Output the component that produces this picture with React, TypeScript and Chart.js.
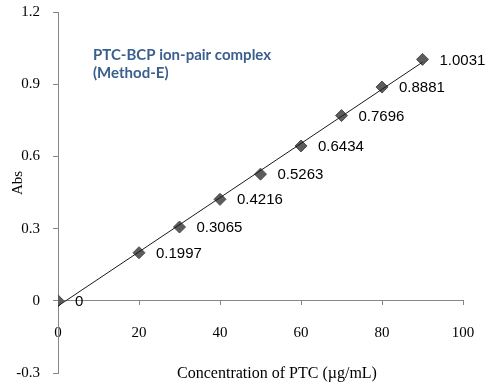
import React, { useEffect, useRef } from 'react';
import { Chart, registerables } from 'chart.js';

Chart.register(...registerables);

const concentrations = [0, 20, 30, 40, 50, 60, 70, 80, 90];
const absorbances = [0, 0.1997, 0.3065, 0.4216, 0.5263, 0.6434, 0.7696, 0.8881, 1.0031];
const pointLabels = ['0', '0.1997', '0.3065', '0.4216', '0.5263', '0.6434', '0.7696', '0.8881', '1.0031'];
const xTicks = [0, 20, 40, 60, 80, 100];
const xTickLabels = ['0', '20', '40', '60', '80', '100'];
const yTicks = [-0.3, 0, 0.3, 0.6, 0.9, 1.2];
const yTickLabels = ['-0.3', '0', '0.3', '0.6', '0.9', '1.2'];
const xTitle = 'Concentration of PTC (µg/mL)';
const yTitle = 'Abs';
const annotationLines = ['PTC-BCP ion-pair complex', '(Method-E)'];

function linearFit(xs: number[], ys: number[]) {
  const n = xs.length;
  const mx = xs.reduce((a, b) => a + b, 0) / n;
  const my = ys.reduce((a, b) => a + b, 0) / n;
  let sxy = 0, sxx = 0;
  for (let i = 0; i < n; i++) {
    sxy += (xs[i] - mx) * (ys[i] - my);
    sxx += (xs[i] - mx) * (xs[i] - mx);
  }
  const m = sxy / sxx;
  return { m, b: my - m * mx };
}

const AXIS = '#868686';
const SERIF = '"Liberation Serif", "Times New Roman", serif';

const textPlugin = {
  id: 'texts',
  afterDatasetsDraw(chart: any) {
    const ctx = chart.ctx;
    const area = chart.chartArea;
    const meta = chart.getDatasetMeta(1);
    ctx.save();
    ctx.font = '15px "Liberation Sans", Arial, sans-serif';
    ctx.fillStyle = '#000';
    ctx.textBaseline = 'middle';
    ctx.textAlign = 'left';
    meta.data.forEach((pt: any, i: number) => {
      ctx.fillText(pointLabels[i], pt.x + 17, pt.y + 1);
    });
    ctx.font = 'bold 15px Lato, "Open Sans", sans-serif';
    ctx.fillStyle = '#3A5E8E';
    ctx.textBaseline = 'alphabetic';
    annotationLines.forEach((line, i) => {
      ctx.fillText(line, area.left + 35, area.top + 48 + i * 18);
    });
    ctx.font = '16px ' + SERIF;
    ctx.fillStyle = '#000';
    ctx.textAlign = 'center';
    ctx.textBaseline = 'middle';
    ctx.fillText(xTitle, 277, 374);
    ctx.font = '15px ' + SERIF;
    ctx.translate(18, 183);
    ctx.rotate(-Math.PI / 2);
    ctx.fillText(yTitle, 0, 0);
    ctx.restore();
  },
};

export default function App() {
  const ref = useRef<HTMLCanvasElement | null>(null);
  useEffect(() => {
    if (!ref.current) return;
    const fit = linearFit(concentrations, absorbances);
    const xStart = concentrations[0];
    const xEnd = concentrations[concentrations.length - 1];
    const chart = new Chart(ref.current, {
      type: 'scatter',
      data: {
        datasets: [
          {
            type: 'line',
            data: [
              { x: xStart, y: fit.b + fit.m * xStart },
              { x: xEnd, y: fit.b + fit.m * xEnd },
            ],
            borderColor: '#1a1a1a',
            borderWidth: 1,
            pointRadius: 0,
            fill: false,
          } as any,
          {
            data: concentrations.map((x, i) => ({ x, y: absorbances[i] })),
            pointStyle: 'rectRot',
            pointRadius: 6,
            pointBackgroundColor: '#5c5c5c',
            pointBorderColor: '#4d4d4d',
            pointBorderWidth: 1,
            showLine: false,
          },
        ],
      },
      options: {
        animation: false,
        responsive: false,
        layout: { padding: { left: 0, right: 27, top: 12, bottom: 19 } },
        plugins: { legend: { display: false }, tooltip: { enabled: false } },
        scales: {
          x: {
            type: 'linear',
            min: 0,
            max: 100,
            position: { y: 0 } as any,
            afterBuildTicks: (s: any) => { s.ticks = xTicks.map((v) => ({ value: v })); },
            afterFit: (s: any) => { s.paddingLeft = 0; s.paddingRight = 0; s.paddingTop = 0; s.paddingBottom = 0; },
            ticks: {
              callback: (v: any) => xTickLabels[xTicks.indexOf(Number(v))],
              font: { family: SERIF, size: 15 },
              color: '#000',
              padding: 19,
              maxRotation: 0,
              autoSkip: false,
            },
            grid: { drawOnChartArea: false, drawTicks: true, tickLength: 4, color: AXIS },
            border: { color: AXIS, width: 1 },
          },
          y: {
            type: 'linear',
            min: -0.3,
            max: 1.2,
            afterBuildTicks: (s: any) => { s.ticks = yTicks.map((v) => ({ value: v })); },
            afterFit: (s: any) => { s.width = 58; s.paddingTop = 0; s.paddingBottom = 0; s.paddingLeft = 0; s.paddingRight = 0; },
            ticks: {
              callback: (v: any, i: number) => yTickLabels[i],
              font: { family: SERIF, size: 15 },
              color: '#000',
              padding: 13,
              autoSkip: false,
            },
            grid: { drawOnChartArea: false, drawTicks: true, tickLength: 5, color: AXIS },
            border: { color: AXIS, width: 1 },
          },
        },
      },
      plugins: [textPlugin],
    });
    return () => chart.destroy();
  }, []);
  return (
    <div style={{ position: 'fixed', left: 0, top: 0, width: 490, height: 392, background: '#fff' }}>
      <canvas ref={ref} width={490} height={392} style={{ display: 'block' }} />
    </div>
  );
}
